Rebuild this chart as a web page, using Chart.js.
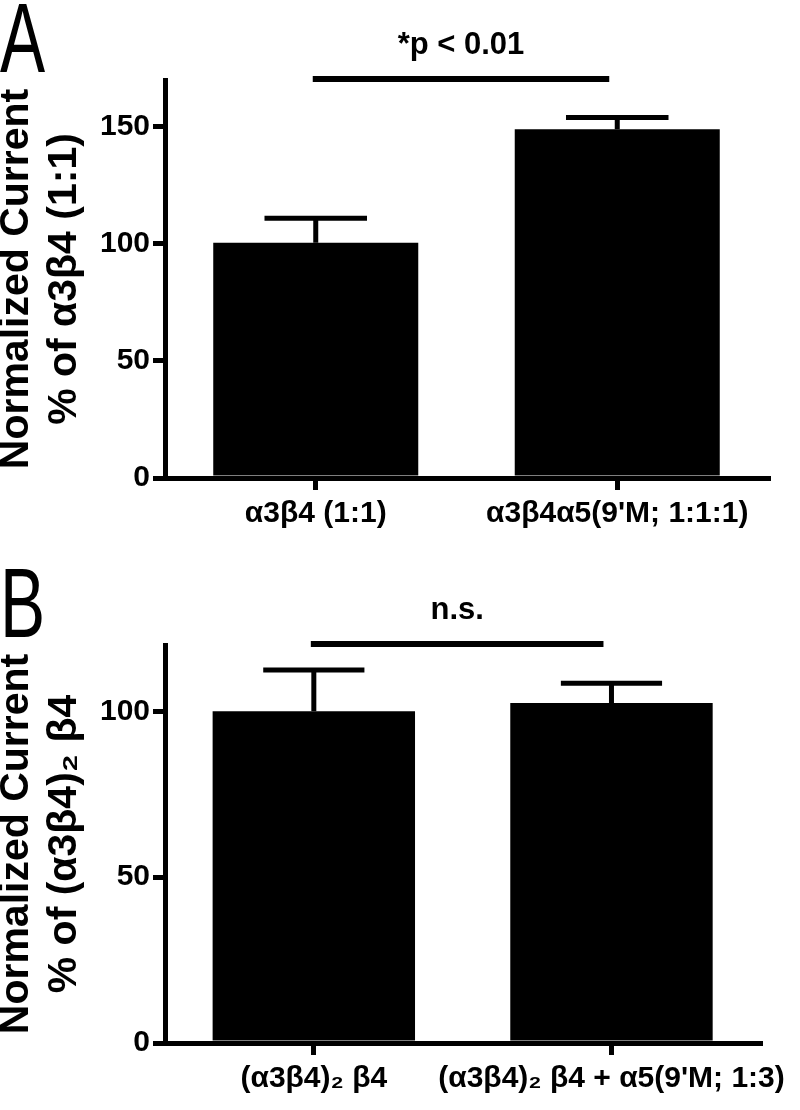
<!DOCTYPE html>
<html>
<head>
<meta charset="utf-8">
<script src="https://cdn.jsdelivr.net/npm/chart.js@4"></script>
<style>
  body { margin: 0; background: #fff; width: 800px; height: 1110px; position: relative; overflow: hidden; font-family: "Liberation Sans", Arial, sans-serif; }
  .panel { position: absolute; left: 0; width: 800px; height: 555px; }
  .letter { position: absolute; left: 0; font-size: 98px; line-height: 1; color: #000; transform: scaleX(0.69); transform-origin: left top; }
</style>
</head>
<body>
<div class="panel" style="top:0"><canvas id="chartA"></canvas></div>
<div class="panel" style="top:555px"><canvas id="chartB"></canvas></div>
<div class="letter" style="top:-11px">A</div>
<div class="letter" style="top:554px">B</div>
<script>
// Panel A
const catsA = ['α3β4 (1:1)', "α3β4α5(9'M; 1:1:1)"];
const meanA = [100.5, 149];
const semA = [10.5, 5];
const maxA = 170;
const titleA = ['Normalized Current', '% of α3β4 (1:1)'];
const sigA = '*p < 0.01';

// Panel B
const catsB = ['(α3β4)₂ β4', "(α3β4)₂ β4 + α5(9'M; 1:3)"];
const meanB = [100, 102.5];
const semB = [12.5, 6];
const maxB = 120;
const titleB = ['Normalized Current', '% of (α3β4)₂ β4'];
const sigB = 'n.s.';

const tickStep = 50;
const FONT = '"Liberation Sans", Arial, sans-serif';

// upper error bar only (the lower half is hidden in the black bar)
const errorBars = {
    id: 'errorBars',
    afterDatasetsDraw(chart, args, opts) {
        const { ctx } = chart;
        const y = chart.scales.y;
        const meta = chart.getDatasetMeta(0);
        ctx.save();
        ctx.strokeStyle = '#000';
        ctx.lineWidth = 5;
        meta.data.forEach((bar, i) => {
            const top = y.getPixelForValue(opts.means[i] + opts.errors[i]);
            const half = bar.width / 4;
            ctx.beginPath();
            ctx.moveTo(bar.x, bar.y);
            ctx.lineTo(bar.x, top);
            ctx.moveTo(bar.x - half, top);
            ctx.lineTo(bar.x + half, top);
            ctx.stroke();
        });
        ctx.restore();
    }
};

// significance bracket over the two bars
const sigLine = {
    id: 'sigLine',
    afterDraw(chart, args, opts) {
        const { ctx, chartArea } = chart;
        const x = chart.scales.x;
        const x0 = x.getPixelForValue(0) - 3;
        const x1 = x.getPixelForValue(1) - 8;
        const yy = chartArea.top - 1;
        ctx.save();
        ctx.fillStyle = '#000';
        ctx.fillRect(x0, yy - 3, x1 - x0, 6);
        ctx.font = 'bold 31px ' + FONT;
        ctx.textAlign = 'center';
        ctx.textBaseline = 'middle';
        ctx.fillText(opts.text, (x0 + x1) / 2, yy - 34);
        ctx.restore();
    }
};

function makeChart(id, cats, means, errs, max, title, sig, layout) {
    const tickFont = { family: FONT, size: 30, weight: 'bold' };
    return new Chart(document.getElementById(id), {
        type: 'bar',
        data: {
            labels: cats,
            datasets: [{
                data: means,
                backgroundColor: '#000',
                borderWidth: 0,
                barPercentage: 0.68,
                categoryPercentage: 1.0
            }]
        },
        options: {
            responsive: true,
            maintainAspectRatio: false,
            animation: false,
            events: [],
            layout: { padding: { top: layout.top, right: layout.right, left: 0, bottom: 0 } },
            plugins: {
                legend: { display: false },
                tooltip: { enabled: false },
                errorBars: { means: means, errors: errs },
                sigLine: { text: sig }
            },
            scales: {
                x: {
                    afterFit: s => { s.height = layout.xHeight; },
                    border: { display: true, width: 5, color: '#000' },
                    grid: { offset: false, drawOnChartArea: false, drawTicks: true, tickLength: 12, lineWidth: 5, color: '#000' },
                    ticks: { color: '#000', font: tickFont, padding: 6, maxRotation: 0, autoSkip: false }
                },
                y: {
                    min: 0,
                    max: max,
                    afterFit: s => { s.width = 165; },
                    afterBuildTicks: s => { s.ticks = s.ticks.filter(t => t.value % tickStep === 0); },
                    border: { display: true, width: 5, color: '#000' },
                    grid: { drawOnChartArea: false, drawTicks: true, tickLength: 12, lineWidth: 5, color: '#000' },
                    ticks: { stepSize: tickStep, color: '#000', font: tickFont, padding: 3 },
                    title: {
                        display: true,
                        text: title,
                        color: '#000',
                        font: { family: FONT, size: 41, weight: 'bold', lineHeight: 1.17 },
                        padding: { top: -7, bottom: 0 }
                    }
                }
            }
        },
        plugins: [errorBars, sigLine]
    });
}

makeChart('chartA', catsA, meanA, semA, maxA, titleA, sigA, { top: 80, right: 32, xHeight: 77 });
makeChart('chartB', catsB, meanB, semB, maxB, titleB, sigB, { top: 90, right: 37, xHeight: 67 });
</script>
</body>
</html>
